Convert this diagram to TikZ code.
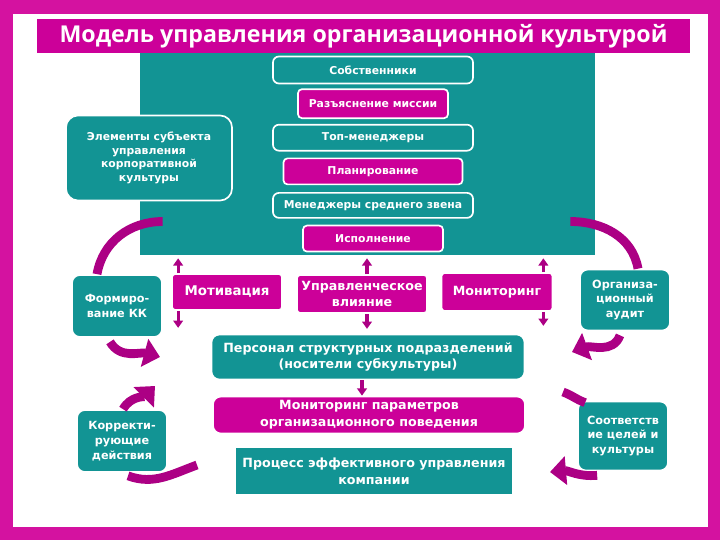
\documentclass[tikz,border=0pt]{standalone}
\usepackage{fontspec}
\setmainfont{DejaVu Sans}
\newfontfamily\titlefont{Open Sans}
\usetikzlibrary{arrows.meta,positioning,calc}
\definecolor{mag}{RGB}{204,0,153}
\definecolor{rim}{RGB}{212,18,160}
\definecolor{teal}{RGB}{18,148,148}
\definecolor{plum}{RGB}{172,0,132}
\tikzset{
  tbox/.style={draw=white,line width=1.2pt,fill=teal,rounded corners=2mm,text=white,align=center,inner sep=1pt},
  mbox/.style={draw=white,line width=1.2pt,fill=mag,rounded corners=1mm,text=white,align=center,inner sep=1pt},
  small/.style={font=\bfseries\fontsize{7.7}{9.6}\selectfont},
  mid/.style={font=\bfseries\fontsize{8}{10.5}\selectfont},
  big/.style={font=\bfseries\fontsize{9}{12}\selectfont},
  band/.style={draw=plum,line width=2.2mm},
  bandtip/.style={band,-{Triangle[width=7mm,length=4mm]}},
  sarr/.style={draw=plum,line width=0.8mm,-{Triangle[width=2.4mm,length=1.8mm]}}
}
\begin{document}
\begin{tikzpicture}[x=0.025cm,y=0.025cm]
  \useasboundingbox (0,0) rectangle (720,540);
  % frame
  \fill[rim] (0,0) rectangle (13,540);
  \fill[rim] (708,0) rectangle (720,540);
  \fill[rim] (0,526) rectangle (720,540);
  \fill[rim] (0,0) rectangle (720,13);
  % subject block
  \node[fill=teal,minimum width=113.75mm,minimum height=50.75mm,inner sep=0] (cult) at (367.5,386.5) {};
  \node[fill=mag,minimum width=163.25mm,minimum height=8mm,text=white,
        font=\titlefont\bfseries\fontsize{16.5}{18}\selectfont] (title) at (363.5,504)
        {Модель управления организационной культурой};
  \node[tbox,small,rounded corners=1.5mm,minimum width=50mm,minimum height=6.75mm] (own) at (373,470) {Собственники};
  \node[mbox,small,minimum width=37.5mm,minimum height=7.25mm,below=1mm of own] (mis) {Разъяснение миссии};
  \node[tbox,small,rounded corners=1.5mm,minimum width=50mm,minimum height=6.5mm,below=1.2mm of mis] (topm) {Топ-менеджеры};
  \node[mbox,small,minimum width=44.75mm,minimum height=6.5mm,below=1.5mm of topm] (plan) {Планирование};
  \node[tbox,small,rounded corners=1.5mm,minimum width=50mm,minimum height=6.25mm,below=1.7mm of plan] (midm) {Менеджеры среднего звена};
  \node[mbox,small,minimum width=35mm,minimum height=6.5mm,below=1.5mm of midm] (exe) {Исполнение};
  \node[tbox,small,rounded corners=3mm,minimum width=41.5mm,minimum height=21.25mm] (elem) at (149,382)
        {Элементы субъекта\\управления\\корпоративной\\культуры};
  % middle row
  \node[tbox,mid,minimum width=22.5mm,minimum height=15.5mm] (form) at (117,234) {Формиро-\\вание КК};
  \node[mbox,font=\bfseries\fontsize{9.5}{12}\selectfont,rounded corners=0.8mm,minimum width=27.5mm,minimum height=9mm] (motiv) at (227,248) {Мотивация};
  \node[mbox,big,rounded corners=0.8mm,minimum width=32.5mm,minimum height=9.5mm] (infl) at (362,246) {Управленческое\\влияние};
  \node[mbox,big,rounded corners=0.8mm,minimum width=27.75mm,minimum height=9.5mm] (mon) at (497,248) {Мониторинг};
  \node[tbox,mid,minimum width=22.5mm,minimum height=15.25mm] (audit) at (625,240) {Организа-\\ционный\\аудит};
  % object of management
  \node[tbox,big,minimum width=78.25mm,minimum height=11.25mm] (pers) at (368,183)
        {Персонал структурных подразделений\\(носители субкультуры)};
  \node[mbox,big,rounded corners=2mm,minimum width=78mm,minimum height=9.25mm] (monp) at (369,125)
        {Мониторинг параметров\\организационного поведения};
  \node[tbox,big,rounded corners=0pt,minimum width=69.25mm,minimum height=11.75mm] (proc) at (374,69)
        {Процесс эффективного управления\\компании};
  \node[tbox,mid,minimum width=22.5mm,minimum height=15.5mm] (corr) at (122,99) {Корректи-\\рующие\\действия};
  \node[tbox,mid,minimum width=22.5mm,minimum height=17.25mm] (match) at (623,104) {Соответств\\ие целей и\\культуры};
  % small arrows
  \draw[sarr] ($(motiv.north west)+(7,0)$) -- ($(motiv.north west |- cult.south)+(7,-3)$);
  \draw[sarr] ($(motiv.south west)+(7,0)$) -- ++(0,-17);
  \draw[sarr] ($(infl.north)+(5,0)$) -- ($(infl.north |- cult.south)+(5,-3)$);
  \draw[sarr] ($(infl.south)+(5,0)$) -- ++(0,-15);
  \draw[sarr] ($(mon.north east)+(-10,0)$) -- ($(mon.north east |- cult.south)+(-10,-3)$);
  \draw[sarr] ($(mon.south east)+(-10,0)$) -- ++(0,-14);
  \draw[sarr] ($(pers.south)+(-6,0)$) -- ($(monp.north)+(-7,0)$);
  % cycle arrows
  \draw[band] ($(form.north)+(-20,0)$) to[out=80,in=180] ($(cult.west)+(23,-68)$);
  \draw[bandtip] ($(form.south)+(-7,-4)$) to[out=-60,in=165] (160,183);
  \draw[bandtip] ($(corr.north)+(1,0)$) to[out=60,in=-135] (155,154);
  \draw[band] ($(corr.south)+(6,-3)$) to[out=-20,in=200] (197,75);
  \draw[band] ($(audit.north)+(13,0)$) to[out=100,in=0] ($(cult.east)+(-25,-68)$);
  \draw[bandtip] ($(audit.south)+(-5,-4)$) to[out=-110,in=20] (572,188);
  \draw[band] ($(match.north west)+(8,-2)$) to[out=160,in=-20] (563,148);
  \draw[bandtip] ($(match.south west)+(20,-4)$) to[out=185,in=5] (550,68);
\end{tikzpicture}
\end{document}
